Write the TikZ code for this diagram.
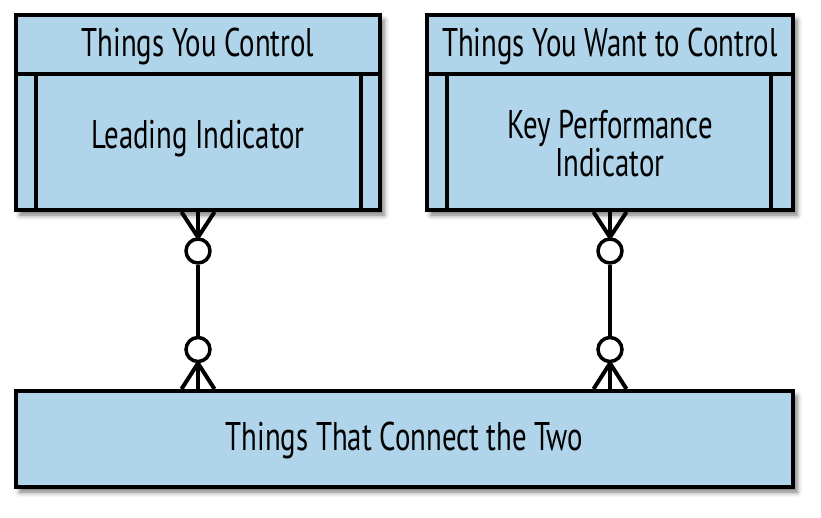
\documentclass[tikz,border=0pt]{standalone}
\usepackage{fontspec}
\setmainfont[FakeStretch=0.72]{PT Sans}
\usetikzlibrary{shadows.blur,calc}
\definecolor{boxblue}{RGB}{176,212,234}
\begin{document}
\begin{tikzpicture}[x=1pt,y=-1pt,
  box/.style={draw=black, fill=boxblue, line width=4pt, rectangle, inner sep=0pt,
    blur shadow={shadow xshift=4pt, shadow yshift=-5pt, shadow blur radius=5pt, shadow opacity=55}},
  divline/.style={line width=4pt, draw=black},
  conn/.style={line width=4pt, draw=black},
  ring/.style={circle, draw=black, fill=white, line width=3.5pt, minimum size=24pt, inner sep=0pt},
  lbl/.style={font=\fontsize{40}{38}\selectfont, align=center, inner sep=0pt}]

\useasboundingbox (0,0) rectangle (821,517);

% boxes
\node[box, minimum width=364pt, minimum height=195pt] (lbox) at (198,112.5) {};
\node[box, minimum width=366pt, minimum height=195pt] (rbox) at (610,112.5) {};
\node[box, minimum width=777pt, minimum height=96pt] (bbox) at (404.5,439) {};

% inner lines of the left box
\draw[divline] ($(lbox.north west)+(0,61)$) -- ($(lbox.north east)+(0,61)$);
\draw[divline] ($(lbox.north west)+(22,61)$) -- ($(lbox.south west)+(22,0)$);
\draw[divline] ($(lbox.north east)+(-21,61)$) -- ($(lbox.south east)+(-21,0)$);
% inner lines of the right box
\draw[divline] ($(rbox.north west)+(0,61)$) -- ($(rbox.north east)+(0,61)$);
\draw[divline] ($(rbox.north west)+(22,61)$) -- ($(rbox.south west)+(22,0)$);
\draw[divline] ($(rbox.north east)+(-24,61)$) -- ($(rbox.south east)+(-24,0)$);

% texts
\node[lbl] (lt) at (198,46) {Things You Control};
\node[lbl] (li) at (198,139) {Leading Indicator};
\node[lbl] (rt) at (610,46) {Things You Want to Control};
\node[lbl] (ri) at (610,144) {Key Performance\\Indicator};
\node[lbl] (bt) at (404.5,440) {Things That Connect the Two};

% rings
\node[ring] (lr1) at (198,251) {};
\node[ring] (lr2) at (198,349.5) {};
\node[ring] (rr1) at (610,251) {};
\node[ring] (rr2) at (610,349.5) {};

% left connector
\draw[conn] (lbox.south) -- (lr1.north);
\draw[conn] ($(lbox.south)+(-16.5,0)$) -- (lr1.north);
\draw[conn] ($(lbox.south)+(16.5,0)$) -- (lr1.north);
\draw[conn] (lr1.south) -- (lr2.north);
\draw[conn] (lr2.south) -- (lr2 |- bbox.north);
\draw[conn] (lr2.south) -- ($(lr2 |- bbox.north)+(-16.5,0)$);
\draw[conn] (lr2.south) -- ($(lr2 |- bbox.north)+(16.5,0)$);

% right connector
\draw[conn] (rbox.south) -- (rr1.north);
\draw[conn] ($(rbox.south)+(-16.5,0)$) -- (rr1.north);
\draw[conn] ($(rbox.south)+(16.5,0)$) -- (rr1.north);
\draw[conn] (rr1.south) -- (rr2.north);
\draw[conn] (rr2.south) -- (rr2 |- bbox.north);
\draw[conn] (rr2.south) -- ($(rr2 |- bbox.north)+(-16.5,0)$);
\draw[conn] (rr2.south) -- ($(rr2 |- bbox.north)+(16.5,0)$);
\end{tikzpicture}
\end{document}
